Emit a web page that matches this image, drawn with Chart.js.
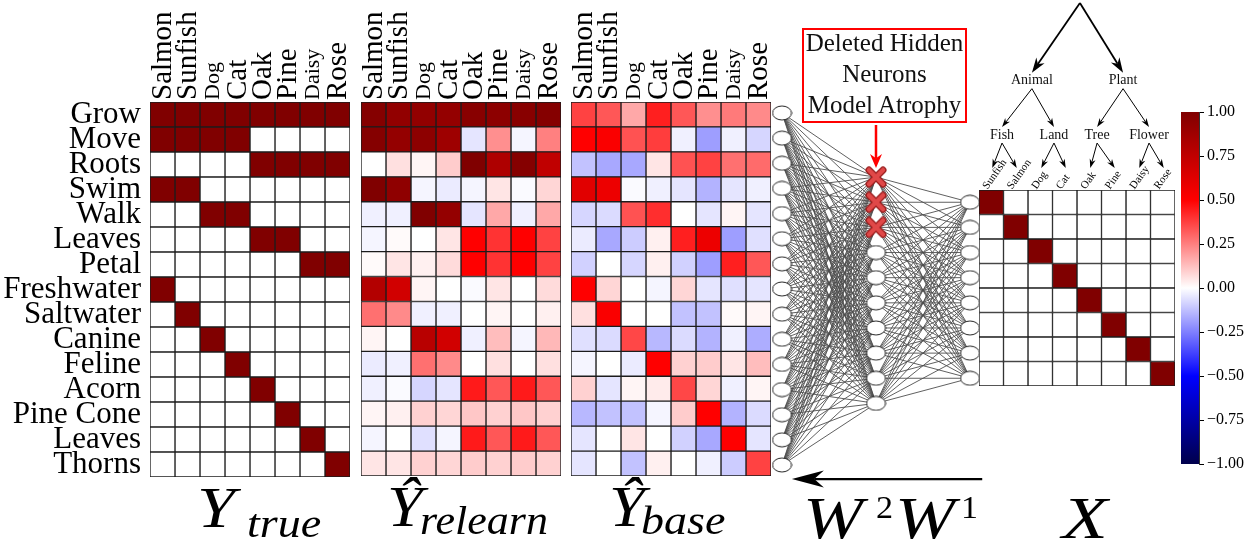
<!DOCTYPE html>
<html>
<head>
<meta charset="utf-8">
<script src="https://cdn.jsdelivr.net/npm/chart.js@4.4.1/dist/chart.umd.min.js"></script>
<style>
  body { margin: 0; background: #fff; }
  #wrap { position: relative; width: 1255px; height: 544px; overflow: hidden; background: #fff; font-family: 'Liberation Serif', serif; }
  canvas { position: absolute; }
  .m { position: absolute; line-height: 1; white-space: nowrap; transform-origin: 0 0; color: #000; font-family: 'Liberation Serif', serif; }
  #note { position: absolute; left: 802px; top: 28px; width: 161px; height: 91px; border: 2px solid #f00; text-align: center; font-size: 25px; line-height: 31px; color: #111; }
  #note div { position: relative; top: -3px; }
</style>
</head>
<body>
<div id="wrap">
  <canvas id="hTrue" width="355" height="544" style="left:0;top:0"></canvas>
  <canvas id="hRelearn" width="210" height="544" style="left:355px;top:0"></canvas>
  <canvas id="hBase" width="210" height="544" style="left:565px;top:0"></canvas>
  <canvas id="net" width="230" height="544" style="left:770px;top:0"></canvas>
  <canvas id="tree" width="205" height="175" style="left:975px;top:0"></canvas>
  <canvas id="hX" width="215" height="400" style="left:970px;top:0"></canvas>
  <canvas id="cbar" width="79" height="544" style="left:1176px;top:0"></canvas>
  <div id="note"><div>Deleted Hidden<br>Neurons<br>Model Atrophy</div></div>
</div>
<script>
// ---- data ----
const rowLabels = ['Grow', 'Move', 'Roots', 'Swim', 'Walk', 'Leaves', 'Petal', 'Freshwater',
  'Saltwater', 'Canine', 'Feline', 'Acorn', 'Pine Cone', 'Leaves', 'Thorns'];
const colLabels = ['Salmon', 'Sunfish', 'Dog', 'Cat', 'Oak', 'Pine', 'Daisy', 'Rose'];

const yTrue = [
  [1, 1, 1, 1, 1, 1, 1, 1],
  [1, 1, 1, 1, 0, 0, 0, 0],
  [0, 0, 0, 0, 1, 1, 1, 1],
  [1, 1, 0, 0, 0, 0, 0, 0],
  [0, 0, 1, 1, 0, 0, 0, 0],
  [0, 0, 0, 0, 1, 1, 0, 0],
  [0, 0, 0, 0, 0, 0, 1, 1],
  [1, 0, 0, 0, 0, 0, 0, 0],
  [0, 1, 0, 0, 0, 0, 0, 0],
  [0, 0, 1, 0, 0, 0, 0, 0],
  [0, 0, 0, 1, 0, 0, 0, 0],
  [0, 0, 0, 0, 1, 0, 0, 0],
  [0, 0, 0, 0, 0, 1, 0, 0],
  [0, 0, 0, 0, 0, 0, 1, 0],
  [0, 0, 0, 0, 0, 0, 0, 1]
];

const yRelearn = [
  [0.98, 0.93, 0.93, 0.92, 0.97, 0.95, 0.97, 0.98],
  [0.98, 0.92, 0.95, 0.88, -0.05, 0.22, -0.02, 0.25],
  [0.0, 0.06, 0.02, 0.1, 1.0, 0.82, 0.98, 0.75],
  [1.0, 0.94, -0.02, -0.04, -0.02, 0.05, -0.01, 0.08],
  [-0.03, -0.03, 1.0, 0.92, -0.05, 0.17, -0.03, 0.17],
  [-0.02, 0.01, 0.0, 0.05, 0.5, 0.4, 0.5, 0.37],
  [0.01, 0.05, 0.03, 0.07, 0.5, 0.4, 0.5, 0.37],
  [0.8, 0.68, 0.02, 0.0, -0.01, 0.05, 0.0, 0.07],
  [0.28, 0.23, -0.03, -0.03, 0.0, 0.02, 0.0, 0.03],
  [0.02, 0.0, 0.78, 0.68, -0.03, 0.13, -0.02, 0.14],
  [-0.04, -0.03, 0.28, 0.23, 0.0, 0.06, 0.0, 0.06],
  [-0.03, -0.01, -0.08, -0.05, 0.45, 0.33, 0.45, 0.33],
  [0.02, 0.03, 0.09, 0.08, 0.11, 0.09, 0.11, 0.09],
  [-0.02, 0.0, -0.06, -0.02, 0.45, 0.33, 0.45, 0.33],
  [0.05, 0.05, 0.09, 0.08, 0.1, 0.09, 0.1, 0.09]
];

const yBase = [
  [0.37, 0.33, 0.17, 0.44, 0.33, 0.22, 0.26, 0.23],
  [0.5, 0.52, 0.34, 0.38, -0.03, -0.19, -0.03, -0.08],
  [-0.12, -0.17, -0.17, 0.05, 0.34, 0.37, 0.28, 0.29],
  [0.62, 0.57, -0.01, -0.03, -0.05, -0.15, -0.05, -0.03],
  [-0.08, -0.07, 0.34, 0.41, 0.0, -0.05, 0.02, -0.05],
  [-0.04, -0.17, -0.1, 0.03, 0.44, 0.57, -0.19, -0.06],
  [-0.09, 0.0, -0.08, 0.03, -0.09, -0.19, 0.44, 0.33],
  [0.5, 0.08, 0.0, -0.02, 0.08, -0.05, -0.06, -0.05],
  [0.06, 0.52, 0.0, 0.0, -0.12, -0.12, 0.01, 0.02],
  [-0.06, -0.07, 0.36, -0.14, -0.07, -0.15, -0.03, -0.16],
  [-0.02, 0.0, -0.04, 0.5, 0.09, 0.1, 0.05, 0.13],
  [0.09, -0.05, 0.02, 0.04, 0.36, 0.08, -0.03, 0.02],
  [-0.14, -0.12, -0.12, -0.02, 0.1, 0.5, -0.15, -0.07],
  [-0.05, 0.0, 0.05, 0.0, -0.09, -0.17, 0.5, -0.05],
  [-0.05, 0.0, -0.12, 0.03, 0.0, -0.03, -0.1, 0.37]
];

const xLabels = ['Sunfish', 'Salmon', 'Dog', 'Cat', 'Oak', 'Pine', 'Daisy', 'Rose'];
const xInput = [
  [1, 0, 0, 0, 0, 0, 0, 0],
  [0, 1, 0, 0, 0, 0, 0, 0],
  [0, 0, 1, 0, 0, 0, 0, 0],
  [0, 0, 0, 1, 0, 0, 0, 0],
  [0, 0, 0, 0, 1, 0, 0, 0],
  [0, 0, 0, 0, 0, 1, 0, 0],
  [0, 0, 0, 0, 0, 0, 1, 0],
  [0, 0, 0, 0, 0, 0, 0, 1]
];

const cbTicks = [-1, -0.75, -0.5, -0.25, 0, 0.25, 0.5, 0.75, 1];

// network: nodes per layer, vertical offset of each layer (in node slots), removed hidden units
const layerSizes = [15, 10, 8];
const layerOffsets = [0, 2.55, 3.55];
const deletedHidden = [0, 1, 2];

// hierarchy above X
const treeNames = ['', 'Animal', 'Plant', 'Fish', 'Land', 'Tree', 'Flower',
  'Sunfish', 'Salmon', 'Dog', 'Cat', 'Oak', 'Pine', 'Daisy', 'Rose'];
const treeX = [3.62, 1.66, 5.38, 0.44, 2.56, 4.32, 6.44, 0, 1, 2, 3, 4, 5, 6, 7];
const treeDepth = [0, 2, 2, 3.4, 3.4, 3.4, 3.4, 4.25, 4.25, 4.25, 4.25, 4.25, 4.25, 4.25, 4.25];
const treeParent = [-1, 0, 0, 1, 1, 2, 2, 3, 3, 4, 4, 5, 5, 6, 6];

// ---- helpers ----
Chart.defaults.font.family = "'Liberation Serif', 'Times New Roman', serif";
Chart.defaults.color = '#000';
const FONT = "'Liberation Serif', serif";

const seismicStops = [[0, 0, 0, 76], [0.25, 0, 0, 255], [0.5, 255, 255, 255], [0.75, 255, 0, 0], [1, 128, 0, 0]];
function seismic(v) {
  const t = (Math.max(-1, Math.min(1, v)) + 1) / 2;
  for (let k = 1; k < seismicStops.length; k++) {
    const a = seismicStops[k - 1], b = seismicStops[k];
    if (t <= b[0]) {
      const f = (t - a[0]) / (b[0] - a[0]);
      const c = [1, 2, 3].map(n => Math.round(a[n] + (b[n] - a[n]) * f));
      return `rgb(${c[0]},${c[1]},${c[2]})`;
    }
  }
  return 'rgb(128,0,0)';
}

const smallCols = ['Dog', 'Daisy'];

function heatmap(id, rows, cols, matrix, cfg) {
  // column names written above the grid, rotated, centred on each column
  const colNames = {
    id: 'colNames',
    afterDraw(chart) {
      const { ctx, chartArea, scales: { x } } = chart;
      ctx.save();
      ctx.fillStyle = '#000';
      ctx.textAlign = 'left';
      ctx.textBaseline = 'middle';
      cols.forEach((name, j) => {
        ctx.save();
        ctx.translate(x.getPixelForValue(j + 0.5) + cfg.dx, chartArea.top - cfg.gap);
        ctx.rotate(-cfg.rot * Math.PI / 180);
        ctx.font = `${cfg.colSize(name)}px ${FONT}`;
        ctx.fillText(name, 0, 0);
        ctx.restore();
      });
      ctx.restore();
    }
  };
  return new Chart(document.getElementById(id), {
    type: 'bar',
    data: {
      labels: rows,
      datasets: cols.map((c, j) => ({
        label: c,
        data: rows.map(() => 1),
        backgroundColor: rows.map((r, i) => seismic(matrix[i][j])),
        borderColor: '#1c1c1c',
        borderWidth: 1,
        borderSkipped: false,
        barPercentage: 1,
        categoryPercentage: 1
      }))
    },
    options: {
      indexAxis: 'y',
      responsive: false,
      animation: false,
      events: [],
      layout: { padding: cfg.pad },
      plugins: { legend: { display: false }, tooltip: { enabled: false } },
      scales: {
        x: {
          type: 'linear',
          stacked: true,
          position: 'top',
          min: 0,
          max: cols.length,
          grid: { display: false },
          border: { display: false },
          ticks: { display: false },
          afterFit: s => { s.height = cfg.topH; }
        },
        y: {
          stacked: true,
          display: cfg.showRows,
          grid: { display: false },
          border: { display: false },
          afterFit: s => { s.width = cfg.leftW; },
          ticks: { autoSkip: false, padding: 1, color: '#000', font: { size: 31 } }
        }
      }
    },
    plugins: [colNames]
  });
}

const bigCols = name => smallCols.includes(name) ? 22 : 29;

heatmap('hTrue', rowLabels, colLabels, yTrue,
  { showRows: true, leftW: 150, topH: 102, rot: 90, dx: 1, gap: 2, colSize: bigCols, pad: { left: 0, right: 5, top: 0, bottom: 67 } });
heatmap('hRelearn', rowLabels, colLabels, yRelearn,
  { showRows: false, leftW: 0, topH: 102, rot: 90, dx: 1, gap: 2, colSize: bigCols, pad: { left: 6, right: 4, top: 0, bottom: 68 } });
heatmap('hBase', rowLabels, colLabels, yBase,
  { showRows: false, leftW: 0, topH: 102, rot: 90, dx: 1, gap: 2, colSize: bigCols, pad: { left: 6, right: 4, top: 0, bottom: 68 } });

// ---- network diagram ----
function ellipseStyle() {
  const c = document.createElement('canvas');
  c.width = 21; c.height = 16;
  const g = c.getContext('2d');
  g.beginPath();
  g.ellipse(10.5, 8, 9.5, 7, 0, 0, Math.PI * 2);
  g.fillStyle = '#fff'; g.fill();
  g.lineWidth = 1; g.strokeStyle = '#222'; g.stroke();
  return c;
}
function crossStyle() {
  const c = document.createElement('canvas');
  c.width = 22; c.height = 22;
  const g = c.getContext('2d');
  g.lineCap = 'round';
  g.beginPath();
  g.moveTo(4, 4); g.lineTo(18, 18); g.moveTo(18, 4); g.lineTo(4, 18);
  g.strokeStyle = '#9a1e1e'; g.lineWidth = 7; g.stroke();
  g.strokeStyle = '#e04848'; g.lineWidth = 4.5; g.stroke();
  return c;
}

function drawArrow(ctx, x0, y0, x1, y1, lw, hl, hw, color) {
  const ang = Math.atan2(y1 - y0, x1 - x0);
  const cos = Math.cos(ang), sin = Math.sin(ang);
  ctx.save();
  ctx.strokeStyle = color; ctx.fillStyle = color; ctx.lineWidth = lw;
  ctx.beginPath();
  ctx.moveTo(x0, y0);
  ctx.lineTo(x1 - cos * hl * 0.7, y1 - sin * hl * 0.7);
  ctx.stroke();
  ctx.beginPath();
  ctx.moveTo(x1, y1);
  ctx.lineTo(x1 - cos * hl - sin * hw / 2, y1 - sin * hl + cos * hw / 2);
  ctx.lineTo(x1 - cos * hl * 0.7, y1 - sin * hl * 0.7);
  ctx.lineTo(x1 - cos * hl + sin * hw / 2, y1 - sin * hl - cos * hw / 2);
  ctx.closePath();
  ctx.fill();
  ctx.restore();
}

const liveNodes = [], cutNodes = [];
layerSizes.forEach((n, L) => {
  for (let i = 0; i < n; i++) {
    const p = { x: L, y: layerOffsets[L] + i };
    (L === 1 && deletedHidden.includes(i) ? cutNodes : liveNodes).push(p);
  }
});

const netPlugin = {
  id: 'netEdges',
  beforeDatasetsDraw(chart) {
    const { ctx, scales: { x, y } } = chart;
    ctx.save();
    ctx.strokeStyle = '#4e4e4e';
    ctx.lineWidth = 0.9;
    ctx.beginPath();
    for (let L = 0; L < layerSizes.length - 1; L++) {
      for (let i = 0; i < layerSizes[L]; i++) {
        for (let k = 0; k < layerSizes[L + 1]; k++) {
          ctx.moveTo(x.getPixelForValue(L), y.getPixelForValue(layerOffsets[L] + i));
          ctx.lineTo(x.getPixelForValue(L + 1), y.getPixelForValue(layerOffsets[L + 1] + k));
        }
      }
    }
    ctx.stroke();
    ctx.restore();
  },
  afterDatasetsDraw(chart) {
    const { ctx, scales: { x, y } } = chart;
    // red pointer from the note down to the removed units
    const hx = x.getPixelForValue(1);
    const top = y.getPixelForValue(layerOffsets[1] + deletedHidden[0]);
    drawArrow(ctx, hx, 125, hx, top - 9, 2.5, 14, 12, '#ff0000');
    // W2W1 direction arrow under the network
    const ay = y.getPixelForValue(14.56);
    drawArrow(ctx, x.getPixelForValue(2.13), ay, x.getPixelForValue(0.105), ay, 2.2, 32, 17, '#000');
  }
};

new Chart(document.getElementById('net'), {
  type: 'scatter',
  data: {
    datasets: [
      { data: liveNodes, pointStyle: ellipseStyle(), clip: false },
      { data: cutNodes, pointStyle: crossStyle(), clip: false }
    ]
  },
  options: {
    responsive: false,
    animation: false,
    events: [],
    layout: { padding: { left: 12, right: 30, top: 113, bottom: 79 } },
    plugins: { legend: { display: false }, tooltip: { enabled: false } },
    scales: {
      x: { display: false, min: 0, max: 2 },
      y: { display: false, min: 0, max: 14, reverse: true }
    }
  },
  plugins: [netPlugin]
});

// ---- hierarchy ----
const treePlugin = {
  id: 'treeDraw',
  afterDatasetsDraw(chart) {
    const { ctx, scales: { x, y } } = chart;
    const isLeaf = i => !treeParent.includes(i);
    ctx.save();
    ctx.font = `14px ${FONT}`;
    ctx.textAlign = 'center';
    ctx.textBaseline = 'middle';
    ctx.fillStyle = '#111';
    treeNames.forEach((name, i) => {
      const px = x.getPixelForValue(treeX[i]), py = y.getPixelForValue(treeDepth[i]);
      if (name && !isLeaf(i)) ctx.fillText(name, px, py);
      const p = treeParent[i];
      if (p < 0) return;
      const qx = x.getPixelForValue(treeX[p]), qy = y.getPixelForValue(treeDepth[p]);
      const startY = treeNames[p] ? qy + 8 : qy;
      const endY = isLeaf(i) ? py : py - 8;
      const root = p === 0;
      drawArrow(ctx, qx, startY, px + (isLeaf(i) ? 1 : 0), endY, root ? 1.8 : 1, root ? 15 : 9, root ? 10 : 6, '#000');
    });
    ctx.restore();
  }
};

new Chart(document.getElementById('tree'), {
  type: 'scatter',
  data: {
    datasets: [{ data: treeX.map((v, i) => ({ x: v, y: treeDepth[i] })), pointRadius: 0 }]
  },
  options: {
    responsive: false,
    animation: false,
    events: [],
    layout: { padding: { left: 4, right: 5, top: 3, bottom: 5 } },
    plugins: { legend: { display: false }, tooltip: { enabled: false } },
    scales: {
      x: { display: false, min: -0.5, max: 7.5 },
      y: { display: false, min: 0, max: 4.3, reverse: true }
    }
  },
  plugins: [treePlugin]
});

heatmap('hX', xLabels, xLabels, xInput,
  { showRows: false, leftW: 0, topH: 190, rot: 55, dx: -6, gap: 2, colSize: () => 11, pad: { left: 9, right: 10, top: 0, bottom: 14 } });

// ---- colour bar ----
new Chart(document.getElementById('cbar'), {
  type: 'bar',
  data: {
    labels: [''],
    datasets: [{
      data: [[cbTicks[0], cbTicks[cbTicks.length - 1]]],
      backgroundColor: ctx => {
        const a = ctx.chart.chartArea;
        if (!a) return '#fff';
        const g = ctx.chart.ctx.createLinearGradient(0, a.bottom, 0, a.top);
        seismicStops.forEach(s => g.addColorStop(s[0], `rgb(${s[1]},${s[2]},${s[3]})`));
        return g;
      },
      borderWidth: 0,
      barPercentage: 1,
      categoryPercentage: 1
    }]
  },
  options: {
    responsive: false,
    animation: false,
    events: [],
    layout: { padding: { left: 5, right: 0, top: 112, bottom: 80 } },
    plugins: { legend: { display: false }, tooltip: { enabled: false } },
    scales: {
      x: { display: false },
      y: {
        position: 'right',
        min: -1,
        max: 1,
        afterBuildTicks: s => { s.ticks = cbTicks.map(v => ({ value: v })); },
        afterFit: s => { s.width = 56; },
        grid: { drawOnChartArea: false, tickLength: 5, color: '#000' },
        border: { color: '#333' },
        ticks: {
          color: '#000',
          padding: 3,
          font: { size: 16 },
          callback: v => (v < 0 ? '\u2212' : '') + Math.abs(v).toFixed(2)
        }
      }
    }
  }
});

// ---- math captions ----
const captions = [
  ['Y', 197, 527, 57, 1.2, true], ['true', 247, 537, 40, 1.15, true],
  ['\u0176', 387, 526, 56, 1.15, true], ['relearn', 420, 534, 40, 1.1, true],
  ['\u0176', 609, 526, 56, 1.15, true], ['base', 641, 534, 40, 1.15, true],
  ['W', 803, 538, 60, 1.2, true], ['2', 876, 518, 31, 1.1, false],
  ['W', 895, 538, 60, 1.2, true], ['1', 961, 518, 31, 1.1, false],
  ['X', 1062, 538, 60, 1.25, true]
];
const wrap = document.getElementById('wrap');
captions.forEach(([txt, left, base, size, sx, it]) => {
  const d = document.createElement('div');
  d.className = 'm';
  d.textContent = txt;
  d.style.left = left + 'px';
  d.style.top = (base - 0.8375 * size) + 'px';
  d.style.fontSize = size + 'px';
  d.style.fontStyle = it ? 'italic' : 'normal';
  d.style.transform = `scaleX(${sx})`;
  wrap.appendChild(d);
});
</script>
</body>
</html>
